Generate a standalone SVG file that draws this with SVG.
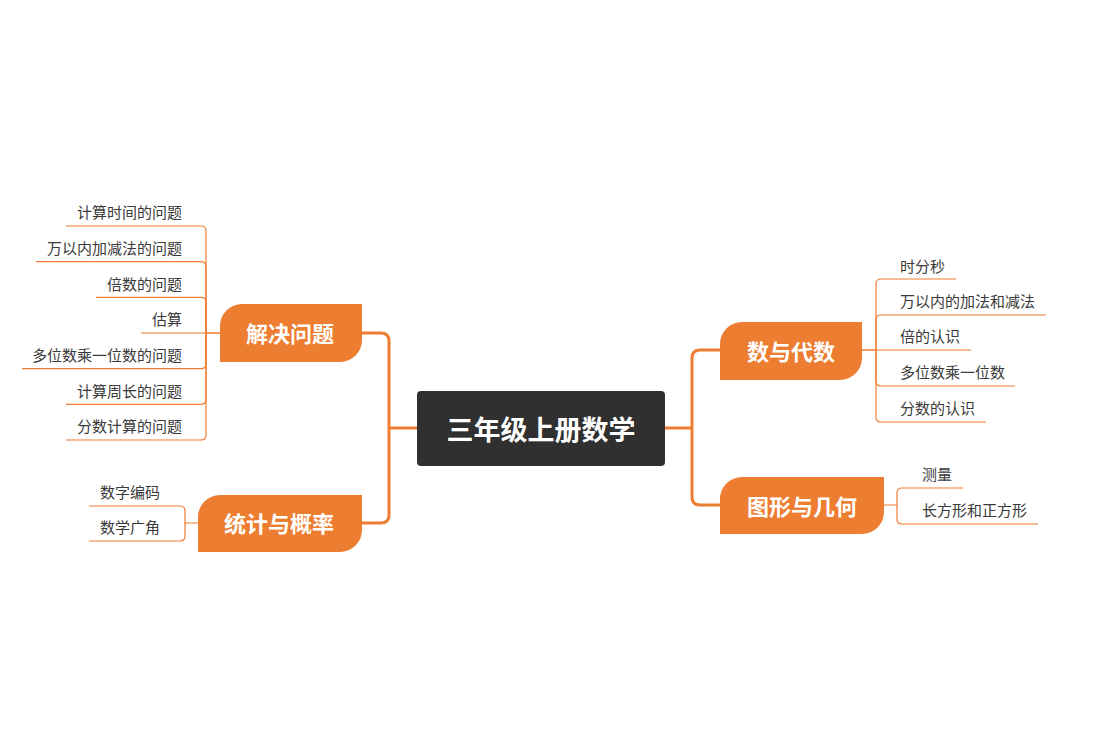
<svg xmlns="http://www.w3.org/2000/svg" width="1100" height="750" viewBox="0 0 1100 750">
<style>
.main{fill:none;stroke:#ED7D31;stroke-width:3;stroke-linecap:round;stroke-linejoin:round}
.sub{fill:none;stroke:#ED7D31;stroke-width:1.2}
.node{fill:#ED7D31}
.nt{font-family:"Noto Sans CJK SC","Microsoft YaHei",sans-serif;font-weight:bold;font-size:22px;fill:#fff;text-anchor:middle;dominant-baseline:central}
.ct{font-family:"Noto Sans CJK SC","Microsoft YaHei",sans-serif;font-size:15px;fill:#3a3a3a;dominant-baseline:central}
.l{text-anchor:end}
</style>
<rect width="1100" height="750" fill="#fff"/>
<g id="connectors">
<path class="main" d="M665 428 H692 M692 428 V358 Q692 350 700 350 H722 M692 428 V497 Q692 505 700 505 H722"/>
<path class="main" d="M417 428 H389 M389 428 V341 Q389 333 381 333 H360 M389 428 V515 Q389 523 381 523 H360"/>
<path class="sub" d="M220 333 H206 V231 Q206 226 201 226 H66"/>
<path class="sub" d="M206 333 V267 Q206 261.7 201 261.7 H36"/>
<path class="sub" d="M206 333 V302 Q206 297.4 201 297.4 H96"/>
<path class="sub" d="M220 333 H141"/>
<path class="sub" d="M206 333 V364 Q206 368.7 201 368.7 H22"/>
<path class="sub" d="M206 333 V399 Q206 404.4 201 404.4 H66"/>
<path class="sub" d="M206 333 V435 Q206 440 201 440 H66"/>
<path class="sub" d="M198 523 H185 V511 Q185 506 180 506 H89"/>
<path class="sub" d="M185 523 V536 Q185 541 180 541 H89"/>
<path class="sub" d="M862 350 H876 V284 Q876 279 881 279 H956"/>
<path class="sub" d="M876 350 V320 Q876 315 881 315 H1046"/>
<path class="sub" d="M862 350 H971"/>
<path class="sub" d="M876 350 V381 Q876 386 881 386 H1015"/>
<path class="sub" d="M876 350 V417 Q876 422 881 422 H986"/>
<path class="sub" d="M884 505 H897 V493 Q897 488 902 488 H963"/>
<path class="sub" d="M897 505 V519 Q897 524 902 524 H1038"/>
</g>
<g id="root">
<rect x="417" y="391" width="248" height="75" rx="4" fill="#303030"/>
<text class="nt" x="541" y="428" style="font-size:27px">三年级上册数学</text>
</g>
<g id="n-jiejue">
<path class="node" d="M242 304 H362 V340 A22 22 0 0 1 340 362 H220 V326 A22 22 0 0 1 242 304 Z"/>
<text class="nt" x="290" y="332">解决问题</text>
</g>
<g id="n-tongji">
<path class="node" d="M220 495 H362 V530 A22 22 0 0 1 340 552 H198 V517 A22 22 0 0 1 220 495 Z"/>
<text class="nt" x="279" y="522">统计与概率</text>
</g>
<g id="n-shuyu">
<path class="node" d="M742 322 H862 V358 A22 22 0 0 1 840 380 H720 V344 A22 22 0 0 1 742 322 Z"/>
<text class="nt" x="791" y="350">数与代数</text>
</g>
<g id="n-tuxing">
<path class="node" d="M742 477 H884 V512 A22 22 0 0 1 862 534 H720 V499 A22 22 0 0 1 742 477 Z"/>
<text class="nt" x="802" y="505">图形与几何</text>
</g>
<g id="c-jiejue">
<text class="ct l" x="182" y="211.5">计算时间的问题</text>
<text class="ct l" x="182" y="247">万以内加减法的问题</text>
<text class="ct l" x="182" y="283">倍数的问题</text>
<text class="ct l" x="182" y="318.5">估算</text>
<text class="ct l" x="182" y="354">多位数乘一位数的问题</text>
<text class="ct l" x="182" y="390">计算周长的问题</text>
<text class="ct l" x="182" y="425.5">分数计算的问题</text>
</g>
<g id="c-tongji">
<text class="ct" x="100" y="491.5">数字编码</text>
<text class="ct" x="100" y="526.5">数学广角</text>
</g>
<g id="c-shuyu">
<text class="ct" x="900" y="265">时分秒</text>
<text class="ct" x="900" y="300.5">万以内的加法和减法</text>
<text class="ct" x="900" y="335.5">倍的认识</text>
<text class="ct" x="900" y="371.5">多位数乘一位数</text>
<text class="ct" x="900" y="407.5">分数的认识</text>
</g>
<g id="c-tuxing">
<text class="ct" x="922" y="473.5">测量</text>
<text class="ct" x="922" y="509.5">长方形和正方形</text>
</g>
</svg>
